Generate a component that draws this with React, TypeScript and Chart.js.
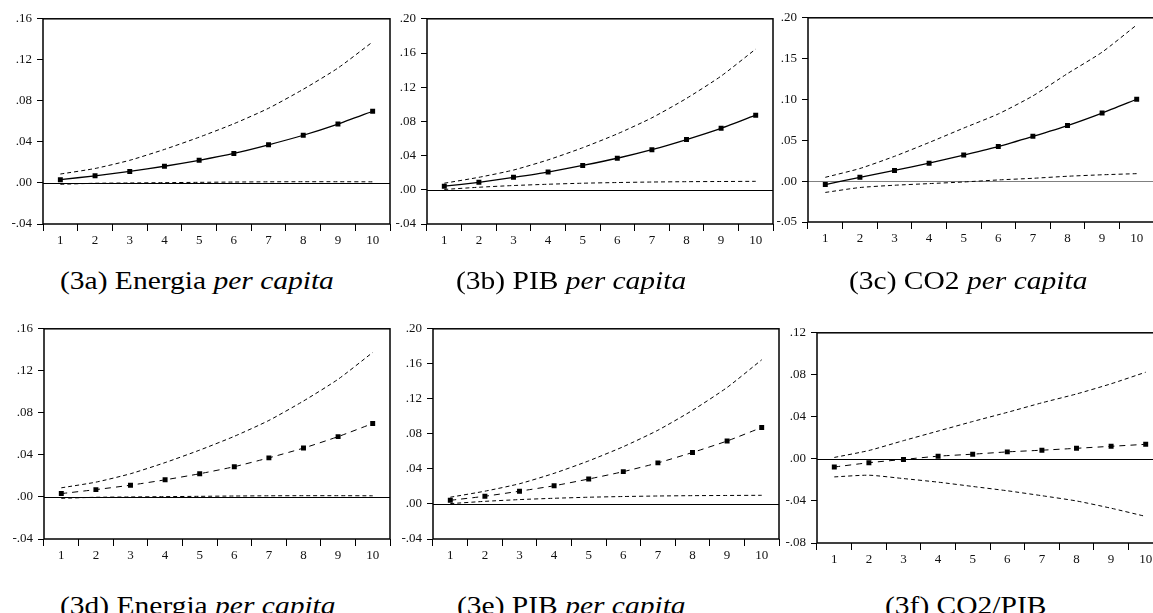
import React, { useEffect, useRef } from "react";
import { Chart, registerables } from "chart.js";

Chart.register(...registerables);

// ---------------- DATA ----------------
const periods = ["1", "2", "3", "4", "5", "6", "7", "8", "9", "10"];

// (3a)/(3d) Energia per capita
const energiaResp = [0.0032, 0.007, 0.0112, 0.0163, 0.0221, 0.0288, 0.0372, 0.0465, 0.0574, 0.0699];
const energiaUpper = [0.0087, 0.0141, 0.0221, 0.0327, 0.0446, 0.0577, 0.0728, 0.0913, 0.112, 0.1375];
const energiaLower = [-0.0013, -0.0003, 0.0, 0.0003, 0.0006, 0.0009, 0.0011, 0.0012, 0.0012, 0.0011];

// (3b)/(3e) PIB per capita
const pibResp = [0.0042, 0.0088, 0.0146, 0.0208, 0.0285, 0.0369, 0.0469, 0.0588, 0.0719, 0.0873];
const pibUpper = [0.0077, 0.0146, 0.0231, 0.035, 0.0492, 0.0654, 0.0842, 0.1069, 0.133, 0.1646];
const pibLower = [0.0004, 0.003, 0.005, 0.0065, 0.0077, 0.0085, 0.0091, 0.0095, 0.0097, 0.0099];

// (3c) CO2 per capita
const co2Resp = [-0.0042, 0.0047, 0.0131, 0.022, 0.032, 0.0424, 0.0549, 0.0681, 0.0834, 0.1003];
const co2Upper = [0.0047, 0.0155, 0.0304, 0.0473, 0.065, 0.0823, 0.1044, 0.1317, 0.1579, 0.1913];
const co2Lower = [-0.0138, -0.0078, -0.005, -0.003, -0.001, 0.0015, 0.0035, 0.006, 0.0078, 0.0092];

// (3f) CO2/PIB
const co2pibResp = [-0.0077, -0.0036, -0.0005, 0.0026, 0.0045, 0.0067, 0.0083, 0.0101, 0.012, 0.0139];
const co2pibUpper = [0.0014, 0.008, 0.0174, 0.0265, 0.0356, 0.0443, 0.0534, 0.0618, 0.0715, 0.0825];
const co2pibLower = [-0.0171, -0.0155, -0.0187, -0.0221, -0.0262, -0.0303, -0.035, -0.04, -0.0469, -0.0547];

// Y tick values and labels
const ticksEnergia = [-0.04, 0, 0.04, 0.08, 0.12, 0.16];
const labelsEnergia = ["-.04", ".00", ".04", ".08", ".12", ".16"];
const ticksPib = [-0.04, 0, 0.04, 0.08, 0.12, 0.16, 0.2];
const labelsPib = ["-.04", ".00", ".04", ".08", ".12", ".16", ".20"];
const ticksCo2 = [-0.05, 0, 0.05, 0.1, 0.15, 0.2];
const labelsCo2 = ["-.05", ".00", ".05", ".10", ".15", ".20"];
const ticksCo2Pib = [-0.08, -0.04, 0, 0.04, 0.08, 0.12];
const labelsCo2Pib = ["-.08", "-.04", ".00", ".04", ".08", ".12"];

// ---------------- LAYOUT ----------------
const YW = 42; // y-axis width
const XH = 30; // x-axis height
const PT = 10; // top padding
const PR = 4; // right padding
const FONT = "'Liberation Serif', 'Times New Roman', serif";

type Area = { left: number; top: number; right: number; bottom: number };

const boxPlugin = {
  id: "boxPlugin",
  beforeDatasetsDraw(chart: any, _args: any, opts: any) {
    const { ctx, chartArea, scales } = chart;
    const y0 = scales.y.getPixelForValue(0);
    ctx.save();
    ctx.strokeStyle = opts.zeroColor || "#000";
    ctx.lineWidth = 1;
    ctx.beginPath();
    ctx.moveTo(chartArea.left, Math.round(y0) + 0.5);
    ctx.lineTo(chartArea.right, Math.round(y0) + 0.5);
    ctx.stroke();
    ctx.restore();
  },
  afterDraw(chart: any) {
    const { ctx, chartArea } = chart;
    ctx.save();
    ctx.strokeStyle = "#000";
    ctx.lineWidth = 1.5;
    ctx.strokeRect(chartArea.left, chartArea.top, chartArea.right - chartArea.left, chartArea.bottom - chartArea.top);
    ctx.restore();
  },
};

type PanelProps = {
  area: Area;
  yTicks: number[];
  yLabels: string[];
  main: number[];
  upper: number[];
  lower: number[];
  mainDashed: boolean;
  zeroColor?: string;
};

function Panel({ area, yTicks, yLabels, main, upper, lower, mainDashed, zeroColor }: PanelProps) {
  const ref = useRef<HTMLCanvasElement>(null);
  const cl = area.left - YW;
  const ct = area.top - PT;
  const cw = area.right - area.left + YW + PR;
  const ch = area.bottom - area.top + PT + XH;

  useEffect(() => {
    if (!ref.current) return;
    const band = {
      borderColor: "#000",
      borderWidth: 1,
      borderDash: [4, 3],
      pointRadius: 0,
      tension: 0.2,
      fill: false,
    };
    const chart = new Chart(ref.current, {
      type: "line",
      data: {
        labels: periods,
        datasets: [
          { ...band, data: upper },
          { ...band, data: lower },
          {
            data: main,
            borderColor: "#000",
            borderWidth: mainDashed ? 1 : 1.3,
            borderDash: mainDashed ? [6, 5] : [],
            pointStyle: "rect",
            pointRadius: 3.5,
            pointBorderWidth: 0,
            pointBackgroundColor: "#000",
            tension: 0.2,
            fill: false,
          },
        ],
      },
      options: {
        responsive: false,
        animation: false,
        events: [],
        layout: { padding: { top: PT, right: PR, left: 0, bottom: 0 } },
        plugins: {
          legend: { display: false },
          tooltip: { enabled: false },
          title: { display: false },
          boxPlugin: { zeroColor },
        } as any,
        scales: {
          x: {
            type: "category",
            offset: true,
            grid: {
              offset: true,
              drawOnChartArea: false,
              drawTicks: true,
              tickLength: 7,
              color: "#000",
              tickColor: "#000",
              lineWidth: 1,
            },
            border: { display: false },
            ticks: {
              color: "#111",
              font: { family: FONT, size: 13 },
              padding: 2,
              maxRotation: 0,
              autoSkip: false,
            },
            afterFit: (s: any) => {
              s.height = XH;
            },
          },
          y: {
            min: yTicks[0],
            max: yTicks[yTicks.length - 1],
            afterBuildTicks: (s: any) => {
              s.ticks = yTicks.map((v) => ({ value: v }));
            },
            grid: {
              drawOnChartArea: false,
              drawTicks: true,
              tickLength: 6,
              tickColor: "#000",
              color: "#000",
              lineWidth: 1,
            },
            border: { display: false },
            ticks: {
              color: "#111",
              font: { family: FONT, size: 13 },
              padding: 5,
              callback: (_v: any, i: number) => yLabels[i],
            },
            afterFit: (s: any) => {
              s.width = YW;
            },
          },
        },
      },
      plugins: [boxPlugin],
    } as any);
    return () => chart.destroy();
  }, []);

  return (
    <canvas
      ref={ref}
      width={cw}
      height={ch}
      style={{ position: "absolute", left: cl, top: ct, width: cw, height: ch }}
    />
  );
}

const captionStyle: React.CSSProperties = {
  position: "absolute",
  fontFamily: FONT,
  fontSize: 25,
  lineHeight: "25px",
  whiteSpace: "nowrap",
  color: "#000",
  transform: "scaleX(1.18)",
  transformOrigin: "0 0",
};

export default function App() {
  return (
    <div
      style={{
        position: "fixed",
        left: 0,
        top: 0,
        width: 1153,
        height: 613,
        overflow: "hidden",
        background: "#fff",
      }}
    >
      <Panel area={{ left: 43, top: 16, right: 390, bottom: 224 }} yTicks={ticksEnergia} yLabels={labelsEnergia}
        main={energiaResp} upper={energiaUpper} lower={energiaLower} mainDashed={false} />
      <Panel area={{ left: 427, top: 16, right: 773, bottom: 224 }} yTicks={ticksPib} yLabels={labelsPib}
        main={pibResp} upper={pibUpper} lower={pibLower} mainDashed={false} />
      <Panel area={{ left: 808, top: 15, right: 1154, bottom: 222 }} yTicks={ticksCo2} yLabels={labelsCo2}
        main={co2Resp} upper={co2Upper} lower={co2Lower} mainDashed={false} zeroColor="#808080" />
      <Panel area={{ left: 44, top: 326, right: 390, bottom: 539 }} yTicks={ticksEnergia} yLabels={labelsEnergia}
        main={energiaResp} upper={energiaUpper} lower={energiaLower} mainDashed={true} />
      <Panel area={{ left: 433, top: 326, right: 779, bottom: 539 }} yTicks={ticksPib} yLabels={labelsPib}
        main={pibResp} upper={pibUpper} lower={pibLower} mainDashed={true} />
      <Panel area={{ left: 817, top: 330, right: 1163, bottom: 543 }} yTicks={ticksCo2Pib} yLabels={labelsCo2Pib}
        main={co2pibResp} upper={co2pibUpper} lower={co2pibLower} mainDashed={true} />

      <div style={{ ...captionStyle, left: 60, top: 268 }}>(3a) Energia <i>per capita</i></div>
      <div style={{ ...captionStyle, left: 456, top: 268 }}>(3b) PIB <i>per capita</i></div>
      <div style={{ ...captionStyle, left: 849, top: 268 }}>(3c) CO2 <i>per capita</i></div>
      <div style={{ ...captionStyle, left: 60, top: 593 }}>(3d) Energia <i>per capita</i></div>
      <div style={{ ...captionStyle, left: 457, top: 593 }}>(3e) PIB <i>per capita</i></div>
      <div style={{ ...captionStyle, left: 885, top: 593 }}>(3f) CO2/PIB</div>
    </div>
  );
}
